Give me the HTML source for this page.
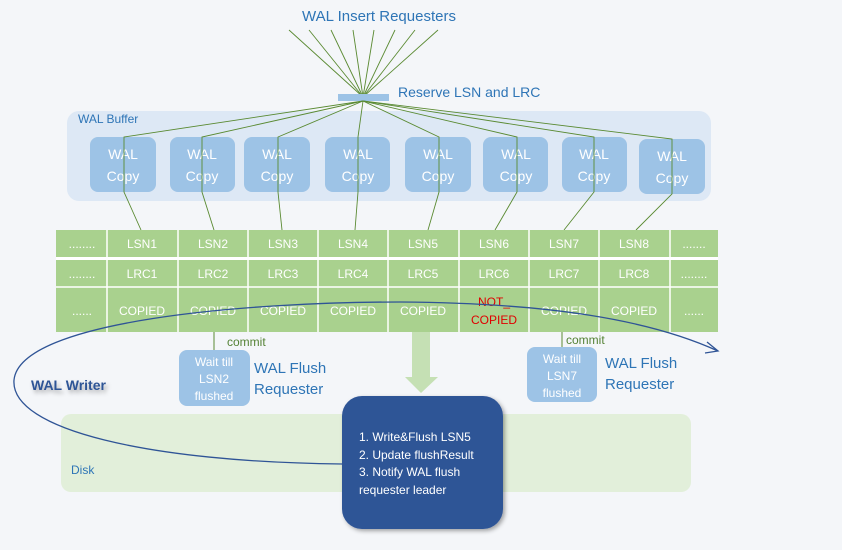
<!DOCTYPE html>
<html><head><meta charset="utf-8"><style>
html,body{margin:0;padding:0;background:#f4f6f9;}
svg{display:block;font-family:"Liberation Sans",sans-serif;}
</style></head><body>
<svg width="842" height="550" viewBox="0 0 842 550" xmlns="http://www.w3.org/2000/svg">
<defs>
<filter id="sh" x="-20%" y="-20%" width="140%" height="140%"><feDropShadow dx="2" dy="2" stdDeviation="2" flood-color="#000" flood-opacity="0.35"/></filter>
<filter id="ts" x="-10%" y="-30%" width="130%" height="180%"><feDropShadow dx="2" dy="3" stdDeviation="2" flood-color="#000" flood-opacity="0.3"/></filter>
</defs>
<rect width="842" height="550" fill="#f4f6f9"/>
<text x="379" y="21" font-size="15" fill="#2e75b6" text-anchor="middle">WAL Insert Requesters</text>
<g stroke="#5a8a32" stroke-width="0.9" fill="none">
<line x1="289" y1="30" x2="363" y2="97"/><line x1="309" y1="30" x2="363" y2="97"/>
<line x1="331" y1="30" x2="363" y2="97"/><line x1="353" y1="30" x2="363" y2="97"/>
<line x1="374" y1="30" x2="363" y2="97"/><line x1="395" y1="30" x2="363" y2="97"/>
<line x1="415" y1="30" x2="363" y2="97"/><line x1="438" y1="30" x2="363" y2="97"/>
</g>
<rect x="67" y="111" width="644" height="90" rx="12" fill="#dde8f5"/>
<text x="78" y="123" font-size="12" fill="#2e75b6">WAL Buffer</text>
<rect x="338" y="94" width="51" height="7" fill="#9dc3e6"/>
<text x="398" y="97" font-size="14" fill="#2e75b6">Reserve LSN and LRC</text>
<g fill="#9dc3e6">
<rect x="90" y="137" width="66" height="55" rx="8"/>
<rect x="170" y="137" width="65" height="55" rx="8"/>
<rect x="244" y="137" width="66" height="55" rx="8"/>
<rect x="325" y="137" width="65" height="55" rx="8"/>
<rect x="405" y="137" width="66" height="55" rx="8"/>
<rect x="483" y="137" width="65" height="55" rx="8"/>
<rect x="562" y="137" width="65" height="55" rx="8"/>
<rect x="639" y="139" width="66" height="55" rx="8"/>
</g>
<g fill="#fff" font-size="14" text-anchor="middle">
<text x="123" y="159">WAL</text><text x="123" y="181">Copy</text>
<text x="202" y="159">WAL</text><text x="202" y="181">Copy</text>
<text x="277" y="159">WAL</text><text x="277" y="181">Copy</text>
<text x="358" y="159">WAL</text><text x="358" y="181">Copy</text>
<text x="438" y="159">WAL</text><text x="438" y="181">Copy</text>
<text x="516" y="159">WAL</text><text x="516" y="181">Copy</text>
<text x="594" y="159">WAL</text><text x="594" y="181">Copy</text>
<text x="672" y="161">WAL</text><text x="672" y="183">Copy</text>
</g>
<g stroke="#5a8a32" stroke-width="0.9" fill="none">
<polyline points="363,101 124,137 124,192 141,230"/>
<polyline points="363,101 202,137 202,192 214,230"/>
<polyline points="363,101 278,137 278,192 282,230"/>
<polyline points="363,101 358,137 358,192 355,230"/>
<polyline points="363,101 439,137 439,192 428,230"/>
<polyline points="363,101 517,137 517,192 495,230"/>
<polyline points="363,101 594,137 594,192 564,230"/>
<polyline points="363,101 672,139 672,194 636,230"/>
</g>
<rect x="56" y="230" width="662" height="27" fill="#a9d18e"/>
<rect x="56" y="260" width="662" height="72" fill="#a9d18e"/>
<rect x="56" y="257" width="662" height="3" fill="#fff"/>
<line x1="56" y1="287" x2="718" y2="287" stroke="#fff" stroke-width="1.5"/>
<g stroke="#fff" stroke-width="1.5">
<line x1="107" y1="230" x2="107" y2="332"/><line x1="178" y1="230" x2="178" y2="332"/>
<line x1="248" y1="230" x2="248" y2="332"/><line x1="318" y1="230" x2="318" y2="332"/>
<line x1="388" y1="230" x2="388" y2="332"/><line x1="459" y1="230" x2="459" y2="332"/>
<line x1="529" y1="230" x2="529" y2="332"/><line x1="599" y1="230" x2="599" y2="332"/>
<line x1="670" y1="230" x2="670" y2="332"/>
</g>
<g fill="#fff" font-size="12" text-anchor="middle">
<text x="82" y="248">........</text><text x="142" y="248">LSN1</text><text x="213" y="248">LSN2</text><text x="283" y="248">LSN3</text><text x="353" y="248">LSN4</text><text x="423" y="248">LSN5</text><text x="494" y="248">LSN6</text><text x="564" y="248">LSN7</text><text x="634" y="248">LSN8</text><text x="694" y="248">.......</text>
<text x="82" y="278">........</text><text x="142" y="278">LRC1</text><text x="213" y="278">LRC2</text><text x="283" y="278">LRC3</text><text x="353" y="278">LRC4</text><text x="423" y="278">LRC5</text><text x="494" y="278">LRC6</text><text x="564" y="278">LRC7</text><text x="634" y="278">LRC8</text><text x="694" y="278">........</text>
<text x="82" y="315">......</text><text x="142" y="315">COPIED</text><text x="213" y="315">COPIED</text><text x="283" y="315">COPIED</text><text x="353" y="315">COPIED</text><text x="423" y="315">COPIED</text><text x="564" y="315">COPIED</text><text x="634" y="315">COPIED</text><text x="694" y="315">......</text>
</g>
<text x="494" y="306" font-size="12" fill="#e00000" text-anchor="middle">NOT_</text>
<text x="494" y="324" font-size="12" fill="#e00000" text-anchor="middle">COPIED</text>
<rect x="61" y="414" width="630" height="78" rx="10" fill="#e2efda"/>
<text x="71" y="474" font-size="12" fill="#2e75b6">Disk</text>
<polygon points="412,332 430,332 430,377 438,377 421,393 405,377 412,377" fill="#c5e0b4"/>
<line x1="214" y1="332" x2="214" y2="350" stroke="#5a8a32"/>
<line x1="562" y1="332" x2="562" y2="347" stroke="#5a8a32"/>
<text x="227" y="346" font-size="12" fill="#548235">commit</text>
<text x="566" y="344" font-size="12" fill="#548235">commit</text>
<rect x="179" y="350" width="71" height="56" rx="8" fill="#9dc3e6"/>
<g fill="#fff" font-size="12" text-anchor="middle"><text x="214" y="366">Wait till</text><text x="214" y="383">LSN2</text><text x="214" y="400">flushed</text></g>
<rect x="527" y="347" width="70" height="55" rx="8" fill="#9dc3e6"/>
<g fill="#fff" font-size="12" text-anchor="middle"><text x="562" y="363">Wait till</text><text x="562" y="380">LSN7</text><text x="562" y="397">flushed</text></g>
<g fill="#2e75b6" font-size="15"><text x="254" y="373">WAL Flush</text><text x="254" y="394">Requester</text>
<text x="605" y="368">WAL Flush</text><text x="605" y="389">Requester</text></g>
<rect x="342" y="396" width="161" height="133" rx="20" fill="#2f5496" filter="url(#sh)"/>
<g fill="#fff" font-size="12"><text x="359" y="441">1. Write&amp;Flush LSN5</text><text x="359" y="459">2. Update flushResult</text><text x="359" y="476">3. Notify WAL flush</text><text x="359" y="494">requester leader</text></g>
<path d="M342,464 C150,462 10,430 14,380 C20,320 250,302 400,302 C550,303 650,320 718,351" fill="none" stroke="#2f5496" stroke-width="1.3"/>
<polyline points="707,342 718,351 705,353" fill="none" stroke="#2f5496" stroke-width="1.3"/>
<text x="31" y="390" font-size="14" font-weight="bold" fill="#2f5496" filter="url(#ts)">WAL Writer</text>
</svg>
</body></html>
